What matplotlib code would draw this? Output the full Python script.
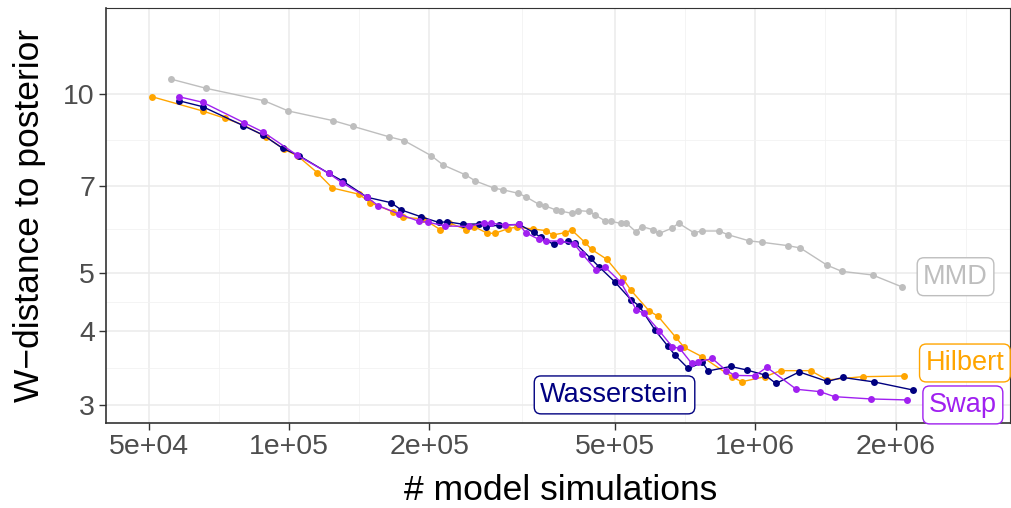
import matplotlib
matplotlib.use("Agg")
import matplotlib.pyplot as plt
import numpy as np

plt.rcParams['font.family'] = ['Liberation Sans', 'DejaVu Sans']

# ---------------- data ----------------
mmd_x = [55.7e3, 66.4e3, 88.4e3, 99.7e3, 124.5e3, 137.1e3, 163.6e3, 176.7e3, 201.9e3, 214.1e3,
         239.0e3, 251.2e3, 275.9e3, 287.2e3, 310.2e3, 321.8e3, 343.3e3, 353.5e3, 373.4e3, 384.0e3,
         405.5e3, 417.7e3, 440.4e3, 453.6e3, 477.2e3, 489.7e3, 515.2e3, 528.1e3, 554.7e3, 571.5e3,
         602.8e3, 622.1e3, 662.8e3, 685.1e3, 738.7e3, 768.5e3, 835.8e3, 875.0e3, 971.8e3, 1.032e6,
         1.173e6, 1.249e6, 1.427e6, 1.534e6, 1.785e6, 2.060e6]
mmd_y = [10.585, 10.21, 9.733, 9.353, 9.008, 8.815, 8.468, 8.338, 7.868, 7.590,
         7.307, 7.134, 6.936, 6.898, 6.803, 6.715, 6.521, 6.486, 6.379, 6.347,
         6.293, 6.362, 6.342, 6.257, 6.108, 6.108, 6.053, 6.070, 5.864, 5.981,
         5.912, 5.824, 5.944, 6.060, 5.840, 5.880, 5.880, 5.795, 5.658, 5.630,
         5.557, 5.507, 5.150, 5.030, 4.960, 4.740]

hil_x = [50.8e3, 65.3e3, 72.9e3, 79.8e3, 89.1e3, 97.7e3, 104.4e3, 115.0e3, 123.9e3, 141.4e3,
         149.3e3, 167.0e3, 175.8e3, 194.0e3, 211.3e3, 220.7e3, 239.7e3, 249.6e3, 266.5e3, 276.5e3,
         295.3e3, 307.8e3, 334.2e3, 355.7e3, 367.9e3, 391.1e3, 403.9e3, 430.6e3, 445.8e3, 480.4e3,
         519.5e3, 541.3e3, 591.6e3, 619.4e3, 675.9e3, 704.2e3, 768.5e3, 890.0e3, 936.0e3, 1.049e6,
         1.134e6, 1.315e6, 1.428e6, 1.700e6, 2.084e6]
hil_y = [9.885, 9.353, 9.093, 8.861, 8.468, 8.064, 7.859, 7.367, 6.944, 6.777,
         6.560, 6.334, 6.196, 6.164, 5.908, 6.065, 5.914, 5.979, 5.828, 5.828,
         5.935, 5.968, 5.926, 5.888, 5.790, 5.842, 5.903, 5.633, 5.475, 5.271,
         4.897, 4.675, 4.321, 4.225, 3.895, 3.748, 3.617, 3.347, 3.282, 3.347,
         3.426, 3.426, 3.305, 3.347, 3.356]

was_x = [58.0e3, 65.3e3, 79.8e3, 88.0e3, 96.9e3, 105.1e3, 121.6e3, 130.6e3, 147.1e3, 165.5e3,
         174.1e3, 192.4e3, 209.7e3, 217.9e3, 235.8e3, 255.9e3, 264.5e3, 282.5e3, 311.8e3, 334.9e3,
         346.7e3, 369.5e3, 397.2e3, 411.5e3, 443.8e3, 462.2e3, 499.4e3, 541.3e3, 563.9e3, 609.4e3,
         649.8e3, 672.6e3, 718.3e3, 770.4e3, 792.9e3, 885.6e3, 958.4e3, 1.049e6, 1.108e6, 1.243e6,
         1.428e6, 1.542e6, 1.802e6, 2.175e6]
was_y = [9.733, 9.510, 8.837, 8.524, 8.096, 7.868, 7.351, 7.127, 6.699, 6.560,
         6.379, 6.208, 6.077, 6.094, 6.037, 6.042, 5.972, 6.018, 6.030, 5.846,
         5.734, 5.585, 5.657, 5.607, 5.287, 5.122, 4.833, 4.508, 4.400, 4.010,
         3.765, 3.640, 3.455, 3.536, 3.422, 3.482, 3.435, 3.369, 3.260, 3.409,
         3.286, 3.337, 3.279, 3.180]

swp_x = [58.0e3, 65.3e3, 80.1e3, 88.0e3, 104.2e3, 121.6e3, 129.9e3, 147.1e3, 155.3e3, 172.1e3,
         190.0e3, 198.9e3, 216.4e3, 243.6e3, 261.9e3, 271.8e3, 291.0e3, 311.8e3, 321.8e3, 343.7e3,
         355.7e3, 382.2e3, 408.9e3, 425.6e3, 456.5e3, 476.8e3, 515.2e3, 556.2e3, 577.7e3, 623.1e3,
         664.2e3, 688.4e3, 730.4e3, 753.5e3, 808.7e3, 867.4e3, 904.6e3, 998.5e3, 1.059e6, 1.225e6,
         1.376e6, 1.480e6, 1.768e6, 2.115e6]
swp_y = [9.885, 9.673, 8.939, 8.623, 7.880, 7.351, 7.088, 6.699, 6.486, 6.280,
         6.105, 6.082, 5.995, 5.984, 6.070, 6.060, 6.018, 6.030, 5.842, 5.691,
         5.657, 5.657, 5.592, 5.380, 5.051, 5.110, 4.819, 4.332, 4.277, 3.994,
         3.755, 3.736, 3.525, 3.540, 3.591, 3.426, 3.363, 3.359, 3.471, 3.188,
         3.159, 3.098, 3.071, 3.059]

x_ticks = [5e4, 1e5, 2e5, 5e5, 1e6, 2e6]
x_tick_labels = ["5e+04", "1e+05", "2e+05", "5e+05", "1e+06", "2e+06"]
y_ticks = [3, 4, 5, 7, 10]
y_tick_labels = ["3", "4", "5", "7", "10"]

series = [
    ("MMD", mmd_x, mmd_y, "#BEBEBE", (54, 10)),
    ("Hilbert", hil_x, hil_y, "#FFA500", (61, 13)),
    ("Wasserstein", was_x, was_y, "#000080", (-298, -5)),
    ("Swap", swp_x, swp_y, "#A020F0", (56, -5)),
]

# ---------------- figure ----------------
W, H = 1011, 508
fig = plt.figure(figsize=(W / 100, H / 100), dpi=100)
ax = fig.add_axes([106 / W, 1 - 423 / H, (1010 - 106) / W, (423 - 8) / H])

ax.set_xscale('log')
ax.set_yscale('log')
ax.set_xlim(4.05e4, 3.52e6)
ax.set_ylim(2.798, 13.93)

# grid (ggplot theme_bw style)
major_x = x_ticks
minor_x = [np.sqrt(a * b) for a, b in zip(x_ticks[:-1], x_ticks[1:])] + [2.83e6]
major_y = y_ticks
minor_y = [np.sqrt(a * b) for a, b in zip(y_ticks[:-1], y_ticks[1:])]
for v in major_x:
    ax.axvline(v, color="#EBEBEB", lw=1.1, zorder=0)
for v in minor_x:
    ax.axvline(v, color="#F2F2F2", lw=0.6, zorder=0)
for v in major_y:
    ax.axhline(v, color="#EBEBEB", lw=1.1, zorder=0)
for v in minor_y:
    ax.axhline(v, color="#F2F2F2", lw=0.6, zorder=0)

ax.set_xticks(x_ticks)
ax.set_xticklabels(x_tick_labels)
ax.set_yticks(y_ticks)
ax.set_yticklabels(y_tick_labels)
ax.xaxis.set_minor_locator(matplotlib.ticker.NullLocator())
ax.yaxis.set_minor_locator(matplotlib.ticker.NullLocator())
ax.tick_params(axis='both', which='major', labelsize=20.5, labelcolor="#4D4D4D",
               color="#333333", length=5, width=1.0, pad=3)

for s in ax.spines.values():
    s.set_color("#333333")
    s.set_linewidth(0.8)
ax.spines['left'].set_linewidth(1.2)
ax.spines['bottom'].set_linewidth(1.2)

for i, (name, xs, ys, col, off) in enumerate(series):
    ax.plot(xs, ys, color=col, lw=1.0, marker='o', markersize=5.0,
            markeredgewidth=0, zorder=3 + i)
    ax.annotate(name, xy=(xs[-1], ys[-1]), xytext=off, textcoords='offset pixels',
                ha='center', va='center', fontsize=19.5, color=col, zorder=10,
                bbox=dict(boxstyle='round,pad=0.22,rounding_size=0.25', fc='white',
                          ec=col, lw=1.0))

fig.text(561 / W, 1 - 490 / H, "# model simulations", ha='center', va='center',
         fontsize=25.5, color='black')
fig.text(30 / W, 1 - 215 / H, "W\u2212distance to posterior", ha='center', va='center',
         rotation=90, fontsize=25.5, color='black')

fig.savefig("out.png", dpi=100)
